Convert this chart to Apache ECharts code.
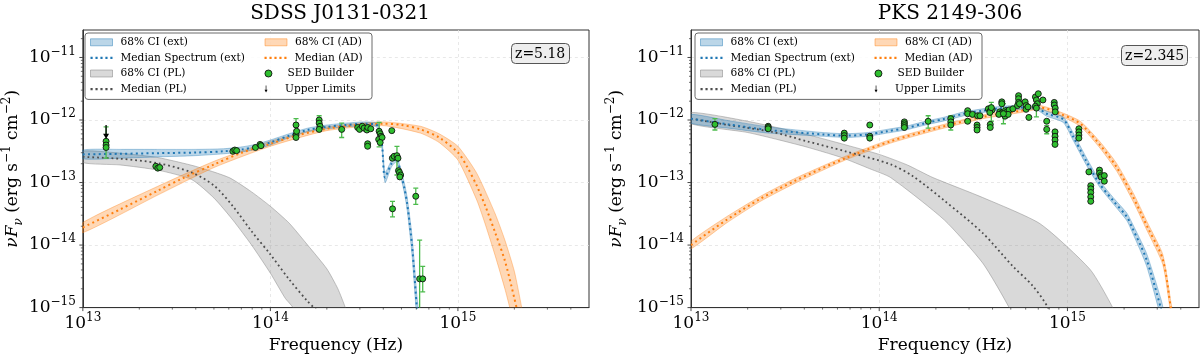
<!DOCTYPE html>
<html><head><meta charset="utf-8">
<script src="https://cdn.jsdelivr.net/npm/echarts@6/dist/echarts.min.js"></script>
<style>html,body{margin:0;padding:0;background:#fff}#c{width:1200px;height:359px}</style>
</head><body><div id="c"></div>
<script>
// ---------------- DATA ----------------
const titles = ['SDSS J0131-0321', 'PKS 2149-306'];
const redshiftLabels = ['z=5.18', 'z=2.345'];
const xTickValues = [1e13, 1e14, 1e15];
const yTickValues = [1e-15, 1e-14, 1e-13, 1e-12, 1e-11];

// ---- Left panel: SDSS J0131-0321 ----
const L_extMedNu = [1.00e13,1.58e13,2.51e13,3.98e13,5.62e13,7.08e13,8.32e13,1.00e14,1.26e14,1.58e14,2.00e14,2.51e14,3.16e14,3.63e14,3.78e14,3.94e14,4.09e14,4.42e14,4.70e14,4.95e14,5.19e14,5.37e14,5.69e14,6.04e14,6.17e14];
const L_extMed   = [2.82e-13,2.88e-13,2.95e-13,3.02e-13,3.16e-13,3.39e-13,3.72e-13,4.37e-13,5.62e-13,6.92e-13,7.76e-13,8.32e-13,8.71e-13,8.51e-13,7.76e-13,3.98e-13,1.20e-13,2.00e-13,2.40e-13,1.45e-13,7.94e-14,4.47e-14,1.00e-14,1.00e-15,5.0e-16];
const L_extHi    = [3.31e-13,3.39e-13,3.39e-13,3.39e-13,3.47e-13,3.72e-13,4.07e-13,4.79e-13,6.03e-13,7.41e-13,8.32e-13,8.91e-13,9.33e-13,9.12e-13,8.51e-13,4.68e-13,1.45e-13,2.24e-13,2.69e-13,1.66e-13,9.55e-14,5.62e-14,1.41e-14,1.58e-15,7.94e-16];
const L_extLo    = [2.40e-13,2.45e-13,2.57e-13,2.69e-13,2.88e-13,3.09e-13,3.39e-13,3.98e-13,5.25e-13,6.46e-13,7.24e-13,7.76e-13,8.13e-13,7.94e-13,7.08e-13,3.39e-13,1.00e-13,1.78e-13,2.14e-13,1.26e-13,6.61e-14,3.55e-14,7.08e-15,6.31e-16,3.16e-16];

const L_adMedNu = [1.00e13,1.58e13,2.51e13,3.47e13,5.01e13,7.08e13,1.00e14,1.41e14,2.00e14,2.51e14,3.16e14,3.98e14,5.01e14,6.31e14,7.94e14,1.00e15,1.12e15,1.26e15,1.41e15,1.58e15,1.78e15,2.00e15,2.09e15];
const L_adMed   = [1.91e-14,3.72e-14,7.41e-14,1.20e-13,1.95e-13,3.02e-13,4.17e-13,5.75e-13,7.24e-13,7.94e-13,8.51e-13,8.71e-13,8.32e-13,7.08e-13,5.25e-13,3.02e-13,1.78e-13,8.91e-14,3.98e-14,1.58e-14,5.62e-15,1.41e-15,7.94e-16];
const L_adHiNu  = [1.00e13,2.51e13,5.01e13,1.00e14,2.00e14,3.98e14,6.31e14,7.94e14,1.00e15,1.26e15,1.58e15,1.78e15,2.00e15,2.19e15,2.29e15];
const L_adHi    = [2.29e-14,8.71e-14,2.19e-13,4.57e-13,7.76e-13,9.33e-13,7.94e-13,6.03e-13,3.80e-13,1.41e-13,3.16e-14,1.20e-14,3.80e-15,1.00e-15,5.0e-16];
const L_adLoNu  = [1.00e13,2.51e13,5.01e13,1.00e14,2.00e14,3.98e14,6.31e14,7.94e14,1.00e15,1.26e15,1.41e15,1.58e15,1.78e15,1.89e15,2.00e15];
const L_adLo    = [1.58e-14,6.31e-14,1.74e-13,3.80e-13,6.76e-13,8.13e-13,6.17e-13,4.37e-13,2.29e-13,5.25e-14,2.00e-14,6.76e-15,2.00e-15,1.00e-15,5.0e-16];

const L_plMedNu = [1.00e13,1.58e13,2.51e13,3.80e13,5.01e13,6.31e13,7.94e13,1.00e14,1.26e14,1.58e14,1.78e14];
const L_plMed   = [2.57e-13,2.40e-13,2.04e-13,1.45e-13,8.91e-14,4.17e-14,1.66e-14,7.08e-15,2.82e-15,1.26e-15,8.91e-16];
const L_plHiNu  = [1.00e13,1.58e13,2.51e13,3.98e13,6.03e13,7.94e13,1.00e14,1.26e14,1.58e14,2.00e14,2.29e14,2.51e14,2.63e14];
const L_plHi    = [3.16e-13,2.95e-13,2.51e-13,1.82e-13,1.20e-13,7.08e-14,4.17e-14,2.24e-14,1.00e-14,4.17e-15,2.00e-15,1.00e-15,6.31e-16];
const L_plLoNu  = [1.00e13,1.58e13,2.51e13,3.80e13,5.01e13,6.31e13,7.94e13,1.00e14,1.20e14,1.32e14,1.38e14];
const L_plLo    = [2.09e-13,1.91e-13,1.58e-13,1.12e-13,5.62e-14,2.51e-14,1.00e-14,3.55e-15,1.41e-15,1.00e-15,6.31e-16];

const L_sedNu = [1.33e13,1.33e13,1.33e13,2.45e13,2.51e13,2.57e13,6.31e13,6.46e13,6.61e13,8.32e13,8.81e13,8.91e13,
  1.37e14,1.37e14,1.37e14,1.38e14,1.82e14,1.82e14,1.84e14,1.82e14,2.40e14,2.92e14,2.99e14,3.09e14,3.16e14,3.27e14,3.31e14,3.43e14,
  3.30e14,3.30e14,3.80e14,3.85e14,3.89e14,3.78e14,3.94e14,3.85e14,4.44e14,4.47e14,4.57e14,4.73e14,4.79e14,4.82e14,4.88e14,4.95e14,4.90e14,
  4.48e14,5.96e14,6.25e14,6.49e14];
const L_sedF  = [4.57e-13,3.98e-13,3.63e-13,1.82e-13,1.70e-13,1.74e-13,3.16e-13,3.31e-13,3.24e-13,3.63e-13,4.07e-13,3.89e-13,
  8.32e-13,5.75e-13,5.25e-13,6.61e-13,1.00e-12,8.91e-13,7.94e-13,7.08e-13,7.08e-13,7.59e-13,7.08e-13,7.94e-13,7.41e-13,6.92e-13,7.59e-13,7.24e-13,
  4.17e-13,3.80e-13,6.61e-13,6.03e-13,5.50e-13,4.90e-13,5.25e-13,4.37e-13,6.76e-13,2.45e-13,2.63e-13,2.69e-13,2.45e-13,1.55e-13,1.45e-13,1.32e-13,1.23e-13,
  3.80e-14,6.03e-14,2.88e-15,2.88e-15];
const L_errNu = [1.33e13,1.37e14,1.82e14,2.40e14,3.80e14,4.73e14,4.48e14,5.96e14,6.25e14,6.49e14];
const L_errLo = [2.45e-13,6.76e-13,6.76e-13,5.25e-13,3.72e-13,1.32e-13,2.82e-14,4.47e-14,6.31e-16,1.78e-15];
const L_errHi = [7.76e-13,1.05e-12,1.17e-12,8.91e-13,9.12e-13,3.80e-13,5.01e-14,8.13e-14,1.20e-14,4.57e-15];
const L_ulNu = [1.33e13];
const L_ulTop = [8.3e-13];
const L_ulTip = [5.0e-13];

// ---- Right panel: PKS 2149-306 ----
const R_extMedNu = [1.00e13,1.58e13,2.57e13,3.39e13,5.01e13,6.61e13,8.71e13,1.10e14,1.38e14,1.76e14,2.24e14,2.82e14,3.55e14,4.47e14,5.62e14,6.87e14,7.76e14,9.51e14,1.07e15,1.26e15,1.49e15,1.75e15,2.07e15,2.20e15,2.63e15,3.13e15,3.24e15];
const R_extMed   = [1.05e-12,8.51e-13,6.92e-13,6.46e-13,5.89e-13,5.62e-13,5.89e-13,6.61e-13,7.41e-13,8.91e-13,1.05e-12,1.26e-12,1.41e-12,1.55e-12,1.58e-12,1.55e-12,1.26e-12,1.02e-12,5.50e-13,2.19e-13,9.33e-14,5.13e-14,2.82e-14,1.95e-14,5.89e-15,1.00e-15,6.31e-16];
const R_extHi    = [1.23e-12,9.77e-13,7.76e-13,7.08e-13,6.31e-13,6.03e-13,6.31e-13,7.08e-13,7.94e-13,9.55e-13,1.12e-12,1.35e-12,1.51e-12,1.66e-12,1.70e-12,1.66e-12,1.38e-12,1.12e-12,6.31e-13,2.51e-13,1.05e-13,5.75e-14,3.24e-14,2.29e-14,7.41e-15,1.41e-15,8.91e-16];
const R_extLo    = [8.91e-13,7.41e-13,6.17e-13,5.89e-13,5.50e-13,5.25e-13,5.50e-13,6.17e-13,6.92e-13,8.32e-13,9.77e-13,1.17e-12,1.32e-12,1.45e-12,1.48e-12,1.45e-12,1.15e-12,9.12e-13,4.79e-13,1.91e-13,8.32e-14,4.57e-14,2.45e-14,1.66e-14,4.68e-15,7.08e-16,4.47e-16];

const R_adMedNu = [1.00e13,1.54e13,2.34e13,3.58e13,6.61e13,1.15e14,2.02e14,3.55e14,5.69e14,7.16e14,9.12e14,1.17e15,1.49e15,1.83e15,2.24e15,2.66e15,3.21e15,3.54e15,3.63e15];
const R_adMed   = [1.00e-14,2.51e-14,5.50e-14,1.07e-13,2.45e-13,4.57e-13,7.41e-13,1.12e-12,1.41e-12,1.58e-12,1.26e-12,8.71e-13,3.98e-13,1.74e-13,5.75e-14,1.95e-14,5.89e-15,1.00e-15,6.31e-16];
const R_adHi    = [1.15e-14,2.82e-14,6.03e-14,1.17e-13,2.63e-13,4.90e-13,7.94e-13,1.20e-12,1.51e-12,1.70e-12,1.35e-12,9.55e-13,4.47e-13,2.00e-13,6.76e-14,2.29e-14,7.08e-15,1.26e-15,8.0e-16];
const R_adLo    = [8.71e-15,2.24e-14,5.01e-14,9.77e-14,2.29e-13,4.27e-13,6.92e-13,1.05e-12,1.32e-12,1.48e-12,1.17e-12,7.94e-13,3.55e-13,1.51e-13,4.90e-14,1.66e-14,4.90e-15,7.94e-16,5.0e-16];

const R_plMedNu = [1.00e13,1.58e13,2.69e13,4.12e13,6.61e13,1.15e14,1.51e14,2.22e14,3.55e14,5.13e14,6.53e14,7.87e14,8.13e14];
const R_plMed   = [1.05e-12,8.32e-13,6.46e-13,4.57e-13,3.16e-13,1.95e-13,1.26e-13,5.13e-14,1.55e-14,4.57e-15,2.24e-15,1.00e-15,6.31e-16];
const R_plHiNu  = [1.00e13,2.00e13,3.98e13,6.31e13,1.00e14,1.41e14,1.93e14,3.55e14,7.16e14,1.32e15,1.74e15,1.82e15];
const R_plHi    = [1.32e-12,9.55e-13,6.03e-13,4.17e-13,2.82e-13,1.91e-13,1.20e-13,5.75e-14,2.19e-14,4.07e-15,1.00e-15,6.31e-16];
const R_plLoNu  = [1.00e13,2.00e13,3.98e13,6.31e13,8.91e13,1.15e14,2.22e14,3.55e14,4.90e14,5.13e14];
const R_plLo    = [8.71e-13,6.31e-13,3.80e-13,2.51e-13,1.66e-13,1.20e-13,2.51e-14,5.13e-15,1.00e-15,6.31e-16];

const R_sedNu = [1.34e13,2.57e13,2.57e13,2.57e13,6.52e13,6.52e13,6.52e13,8.91e13,8.91e13,8.91e13,1.36e14,1.36e14,1.36e14,1.36e14,1.82e14,
  2.40e14,2.40e14,2.40e14,2.95e14,2.95e14,2.95e14,3.13e14,3.33e14,3.43e14,3.31e14,3.31e14,3.31e14,
  3.80e14,3.89e14,3.98e14,3.87e14,3.94e14,3.89e14,3.89e14,4.48e14,4.48e14,
  4.37e14,4.47e14,4.32e14,4.68e14,4.73e14,4.66e14,4.90e14,4.84e14,5.13e14,4.57e14,
  5.50e14,5.50e14,5.50e14,5.43e14,5.56e14,5.96e14,6.03e14,6.03e14,6.17e14,6.24e14,
  6.76e14,6.84e14,6.92e14,6.76e14,7.00e14,7.41e14,6.84e14,7.76e14,7.76e14,
  8.51e14,8.51e14,8.61e14,8.61e14,8.59e14,8.59e14,8.59e14,8.59e14,
  1.15e15,1.15e15,1.15e15,1.15e15,1.30e15,1.48e15,1.48e15,1.50e15,1.51e15,1.57e15,1.57e15,
  1.33e15,1.33e15,1.33e15,1.33e15,1.33e15];
const R_sedF  = [8.51e-13,7.94e-13,7.59e-13,7.24e-13,6.17e-13,5.62e-13,5.13e-13,8.32e-13,5.50e-13,5.13e-13,9.33e-13,8.71e-13,8.13e-13,7.59e-13,9.55e-13,
  1.05e-12,9.33e-13,8.32e-13,1.41e-12,1.26e-12,9.55e-13,1.23e-12,1.17e-12,1.17e-12,8.32e-13,7.59e-13,6.92e-13,
  1.51e-12,1.41e-12,1.45e-12,1.32e-12,1.58e-12,8.51e-13,7.59e-13,1.95e-12,1.82e-12,
  1.35e-12,1.29e-12,1.23e-12,1.41e-12,1.32e-12,1.15e-12,1.45e-12,1.23e-12,1.51e-12,1.26e-12,
  2.45e-12,2.19e-12,1.91e-12,1.70e-12,1.82e-12,1.95e-12,1.70e-12,1.48e-12,1.62e-12,1.10e-12,
  2.34e-12,2.09e-12,1.82e-12,1.66e-12,2.63e-12,2.09e-12,1.55e-12,9.55e-13,7.08e-13,
  1.91e-12,1.74e-12,1.55e-12,1.35e-12,6.46e-13,5.50e-13,4.79e-13,4.07e-13,
  7.24e-13,6.46e-13,5.75e-13,5.13e-13,1.48e-13,1.58e-13,1.41e-13,1.29e-13,1.23e-13,1.29e-13,1.05e-13,
  8.91e-14,7.94e-14,6.92e-14,5.89e-14,5.01e-14];
const R_errNu = [1.34e13,1.82e14,2.40e14,3.94e14,4.57e14,6.84e14,7.76e14];
const R_errLo = [6.92e-13,7.41e-13,6.92e-13,9.55e-13,8.71e-13,1.12e-12,6.03e-13];
const R_errHi = [1.05e-12,1.17e-12,1.17e-12,1.91e-12,1.82e-12,1.95e-12,8.13e-13];

// ---------------- STYLE ----------------
const FONT = 'DejaVu Serif';
const X_MIN = 1e13, X_MAX = 5e15, Y_MIN = 1e-15, Y_MAX = 2.75e-11;
const C_BLUE = '#1f77b4', C_ORANGE = '#ff7f0e', C_GRAY = '#4d4d4d';
const F_BLUE = 'rgba(31,119,180,0.3)', F_ORANGE = 'rgba(255,127,14,0.3)', F_GRAY = 'rgba(128,128,128,0.3)';
const GREEN = '#2fbf2f', GREEN_ERR = '#4cbb4c';
const DOT_ICON = 'path://M0,0h2v2h-2zM4.6,0h2v2h-2zM9.2,0h2v2h-2zM13.8,0h2v2h-2zM18.4,0h2v2h-2z';

function pairs(a, b) { return a.map((v, i) => [v, b[i]]); }
function expOf(v) { const e = Math.log10(v); return Math.abs(e - Math.round(e)) < 1e-6 ? Math.round(e) : null; }
function fmtPow(v) { const e = expOf(v); if (e === null) return ''; return '{b|10}{s|' + (e < 0 ? '\u2212' + (-e) : e) + '}'; }

// minor tick positions (axis decoration, k*10^n)
const xMinor = [], yMinor = [];
for (let n = 13; n <= 15; n++) for (let k = 2; k <= 9; k++) { const v = k * Math.pow(10, n); if (v < X_MAX) xMinor.push(v); }
for (let n = -15; n <= -11; n++) for (let k = 2; k <= 9; k++) { const v = k * Math.pow(10, n); if (v < Y_MAX) yMinor.push(v); }

function bandSeries(name, idx, upNu, up, loNu, lo, fill, edge) {
  return {
    type: 'custom', name, xAxisIndex: idx, yAxisIndex: idx, clip: true, silent: true, z: 1,
    itemStyle: { color: fill },
    data: [[upNu[0], up[0]]],
    renderItem(params, api) {
      const pts = [];
      for (let i = 0; i < upNu.length; i++) pts.push(api.coord([upNu[i], up[i]]));
      for (let i = loNu.length - 1; i >= 0; i--) pts.push(api.coord([loNu[i], lo[i]]));
      return { type: 'polygon', shape: { points: pts, smooth: 0.2 }, style: { fill: fill, stroke: edge, lineWidth: 1 } };
    }
  };
}
function lineSeries(name, idx, nu, f, color, width) {
  return {
    type: 'line', name, xAxisIndex: idx, yAxisIndex: idx, data: pairs(nu, f), showSymbol: false, symbol: 'none',
    smooth: 0.3, clip: true, z: 3, silent: true, color: color,
    lineStyle: { color: color, width: width, type: [width, width * 1.65] }
  };
}
function errSeries(idx, nu, lo, hi) {
  return {
    type: 'custom', xAxisIndex: idx, yAxisIndex: idx, clip: true, silent: true, z: 4,
    data: nu.map((v, i) => [v, lo[i], hi[i]]),
    renderItem(params, api) {
      const a = api.coord([api.value(0), api.value(2)]);
      const b = api.coord([api.value(0), api.value(1)]);
      const st = { stroke: GREEN_ERR, lineWidth: 1.3 };
      return { type: 'group', children: [
        { type: 'line', shape: { x1: a[0], y1: a[1], x2: b[0], y2: b[1] }, style: st },
        { type: 'line', shape: { x1: a[0] - 2.5, y1: a[1], x2: a[0] + 2.5, y2: a[1] }, style: st },
        { type: 'line', shape: { x1: b[0] - 2.5, y1: b[1], x2: b[0] + 2.5, y2: b[1] }, style: st }
      ] };
    }
  };
}
function sedSeries(idx, nu, f) {
  return {
    type: 'scatter', name: 'SED Builder', xAxisIndex: idx, yAxisIndex: idx, data: pairs(nu, f),
    symbol: 'circle', symbolSize: 6, z: 5, silent: true,
    itemStyle: { color: GREEN, borderColor: '#111', borderWidth: 0.9, opacity: 1 }
  };
}
function ulSeries(idx, nu, top, tip) {
  return {
    type: 'custom', name: 'Upper Limits', xAxisIndex: idx, yAxisIndex: idx, clip: true, silent: true, z: 6,
    itemStyle: { color: '#000' },
    data: nu.map((v, i) => [v, top[i], tip[i]]),
    renderItem(params, api) {
      const a = api.coord([api.value(0), api.value(1)]);
      const b = api.coord([api.value(0), api.value(2)]);
      return { type: 'group', children: [
        { type: 'line', shape: { x1: a[0], y1: a[1], x2: b[0], y2: b[1] - 3 }, style: { stroke: '#000', lineWidth: 1.3 } },
        { type: 'polygon', shape: { points: [[b[0] - 3, b[1] - 5], [b[0] + 3, b[1] - 5], [b[0], b[1]]] }, style: { fill: '#000' } }
      ] };
    }
  };
}
function tickSeries(idx, vals, dir, len, w) {
  return {
    type: 'custom', xAxisIndex: idx, yAxisIndex: idx, clip: false, silent: true, z: 10,
    data: vals.map(v => dir === 'x' ? [v, Y_MIN] : [X_MIN, v]),
    renderItem(params, api) {
      const c = api.coord([api.value(0), api.value(1)]);
      const shape = dir === 'x' ? { x1: c[0], y1: c[1], x2: c[0], y2: c[1] + len } : { x1: c[0] - len, y1: c[1], x2: c[0], y2: c[1] };
      return { type: 'line', shape: shape, style: { stroke: '#333', lineWidth: w } };
    }
  };
}

const richLab = {
  b: { fontFamily: FONT, fontSize: 17, lineHeight: 24, color: '#000' },
  s: { fontFamily: FONT, fontSize: 12, lineHeight: 13, verticalAlign: 'top', color: '#000' }
};
const gridLine = { show: true, showMinLine: false, showMaxLine: false, lineStyle: { color: '#e3e3e3', width: 0.8, type: [3, 3] } };
function xAx(idx) {
  return {
    type: 'log', logBase: 10, gridIndex: idx, min: X_MIN, max: X_MAX,
    name: 'Frequency (Hz)', nameLocation: 'middle', nameGap: 26,
    nameTextStyle: { fontFamily: FONT, fontSize: 17, color: '#000' },
    axisLine: { show: true, lineStyle: { color: '#333', width: 1 } }, axisTick: { show: false },
    axisLabel: { formatter: fmtPow, margin: 4, rich: richLab, showMaxLabel: false },
    splitLine: gridLine
  };
}
function yAx(idx, gap) {
  return {
    type: 'log', logBase: 10, gridIndex: idx, min: Y_MIN, max: Y_MAX,
    name: '{i|\u03bdF}{sub|\u03bd} (erg s{sup|\u22121} cm{sup|\u22122})', nameLocation: 'middle', nameGap: gap, nameRotate: 90,
    nameTextStyle: { fontFamily: FONT, fontSize: 17, color: '#000', lineHeight: 24,
      rich: {
        i: { fontFamily: FONT, fontStyle: 'italic', fontSize: 17, lineHeight: 24, color: '#000' },
        sub: { fontFamily: FONT, fontStyle: 'italic', fontSize: 12, lineHeight: 14, verticalAlign: 'bottom', color: '#000' },
        sup: { fontFamily: FONT, fontSize: 12, lineHeight: 14, verticalAlign: 'top', color: '#000' }
      } },
    axisLine: { show: true, lineStyle: { color: '#333', width: 1 } }, axisTick: { show: false },
    axisLabel: { formatter: fmtPow, margin: 7, rich: richLab, showMaxLabel: false },
    splitLine: gridLine
  };
}
function legendFor(left) {
  const t1 = { fontFamily: FONT, fontSize: 10.6, color: '#000', width: 141, lineHeight: 12.6, padding: [0, 0, 0, 3] };
  const t2 = { fontFamily: FONT, fontSize: 10.6, color: '#000', width: 72, lineHeight: 12.6, padding: [0, 0, 0, 3] };
  return {
    left: left, top: 33, width: 280, orient: 'horizontal', itemGap: 3, itemWidth: 22, itemHeight: 7,
    padding: [3, 5, 4, 5], selectedMode: false,
    backgroundColor: 'rgba(255,255,255,0.85)', borderColor: '#6b6b6b', borderWidth: 1, borderRadius: 3,
    data: [
      { name: '68% CI (ext)', icon: 'rect', textStyle: t1, itemStyle: { color: F_BLUE, borderColor: 'rgba(31,119,180,0.45)', borderWidth: 1 } },
      { name: '68% CI (AD)', icon: 'rect', textStyle: t2, itemStyle: { color: F_ORANGE, borderColor: 'rgba(255,127,14,0.45)', borderWidth: 1 } },
      { name: 'Median Spectrum (ext)', icon: DOT_ICON, textStyle: t1, itemStyle: { color: C_BLUE, borderWidth: 0 } },
      { name: 'Median (AD)', icon: DOT_ICON, textStyle: t2, itemStyle: { color: C_ORANGE, borderWidth: 0 } },
      { name: '68% CI (PL)', icon: 'rect', textStyle: t1, itemStyle: { color: F_GRAY, borderColor: 'rgba(128,128,128,0.5)', borderWidth: 1 } },
      { name: 'SED Builder', icon: 'circle', textStyle: t2, itemStyle: { color: GREEN, borderColor: '#111', borderWidth: 0.9 } },
      { name: 'Median (PL)', icon: DOT_ICON, textStyle: t1, itemStyle: { color: C_GRAY, borderWidth: 0 } },
      { name: 'Upper Limits', icon: 'path://M3,0h1.4v9h2.6l-3.3,6l-3.3,-6h2.6z', textStyle: t2, itemStyle: { color: '#000', borderWidth: 0 } }
    ]
  };
}
function zBox(text, left, top) {
  return { text: text, left: left, top: top, backgroundColor: '#eeeeee', borderColor: '#555', borderWidth: 1, borderRadius: 4,
    padding: [4, 4, 3, 4], textStyle: { fontFamily: FONT, fontSize: 14, fontWeight: 'normal', color: '#000' } };
}

const option = {
  animation: false,
  backgroundColor: '#fff',
  title: [
    { text: titles[0], left: 335, top: -1, textAlign: 'center', textStyle: { fontFamily: FONT, fontSize: 20, fontWeight: 'normal', color: '#000' } },
    { text: titles[1], left: 945, top: -1, textAlign: 'center', textStyle: { fontFamily: FONT, fontSize: 20, fontWeight: 'normal', color: '#000' } },
    zBox(redshiftLabels[0], 511, 43),
    zBox(redshiftLabels[1], 1121, 45)
  ],
  legend: [legendFor(85), legendFor(695)],
  grid: [
    { left: 81, top: 30, width: 508, height: 282, show: true, borderColor: '#333', borderWidth: 1, backgroundColor: 'transparent' },
    { left: 691, top: 30, width: 508, height: 282, show: true, borderColor: '#333', borderWidth: 1, backgroundColor: 'transparent' }
  ],
  xAxis: [xAx(0), xAx(1)],
  yAxis: [yAx(0, 52), yAx(1, 62)],
  series: [
    // left
    bandSeries('68% CI (PL)', 0, L_plHiNu, L_plHi, L_plLoNu, L_plLo, F_GRAY, 'rgba(128,128,128,0.45)'),
    bandSeries('68% CI (AD)', 0, L_adHiNu, L_adHi, L_adLoNu, L_adLo, F_ORANGE, 'rgba(255,127,14,0.35)'),
    bandSeries('68% CI (ext)', 0, L_extMedNu, L_extHi, L_extMedNu, L_extLo, F_BLUE, 'rgba(31,119,180,0.35)'),
    lineSeries('Median (PL)', 0, L_plMedNu, L_plMed, C_GRAY, 1.8),
    lineSeries('Median (AD)', 0, L_adMedNu, L_adMed, C_ORANGE, 2),
    lineSeries('Median Spectrum (ext)', 0, L_extMedNu, L_extMed, C_BLUE, 2),
    errSeries(0, L_errNu, L_errLo, L_errHi),
    sedSeries(0, L_sedNu, L_sedF),
    ulSeries(0, L_ulNu, L_ulTop, L_ulTip),
    // right
    bandSeries('68% CI (PL)', 1, R_plHiNu, R_plHi, R_plLoNu, R_plLo, F_GRAY, 'rgba(128,128,128,0.45)'),
    bandSeries('68% CI (AD)', 1, R_adMedNu, R_adHi, R_adMedNu, R_adLo, F_ORANGE, 'rgba(255,127,14,0.35)'),
    bandSeries('68% CI (ext)', 1, R_extMedNu, R_extHi, R_extMedNu, R_extLo, F_BLUE, 'rgba(31,119,180,0.35)'),
    lineSeries('Median (PL)', 1, R_plMedNu, R_plMed, C_GRAY, 1.8),
    lineSeries('Median (AD)', 1, R_adMedNu, R_adMed, C_ORANGE, 2),
    lineSeries('Median Spectrum (ext)', 1, R_extMedNu, R_extMed, C_BLUE, 2),
    errSeries(1, R_errNu, R_errLo, R_errHi),
    sedSeries(1, R_sedNu, R_sedF),
    // axis ticks (major + minor) on both panels
    tickSeries(0, xTickValues, 'x', 3.5, 0.9), tickSeries(0, xMinor, 'x', 2, 0.7),
    tickSeries(0, yTickValues, 'y', 3.5, 0.9), tickSeries(0, yMinor, 'y', 2, 0.7),
    tickSeries(1, xTickValues, 'x', 3.5, 0.9), tickSeries(1, xMinor, 'x', 2, 0.7),
    tickSeries(1, yTickValues, 'y', 3.5, 0.9), tickSeries(1, yMinor, 'y', 2, 0.7)
  ]
};
const chart = echarts.init(document.getElementById('c'), null, { renderer: 'canvas' });
chart.setOption(option);
</script>
</body></html>
